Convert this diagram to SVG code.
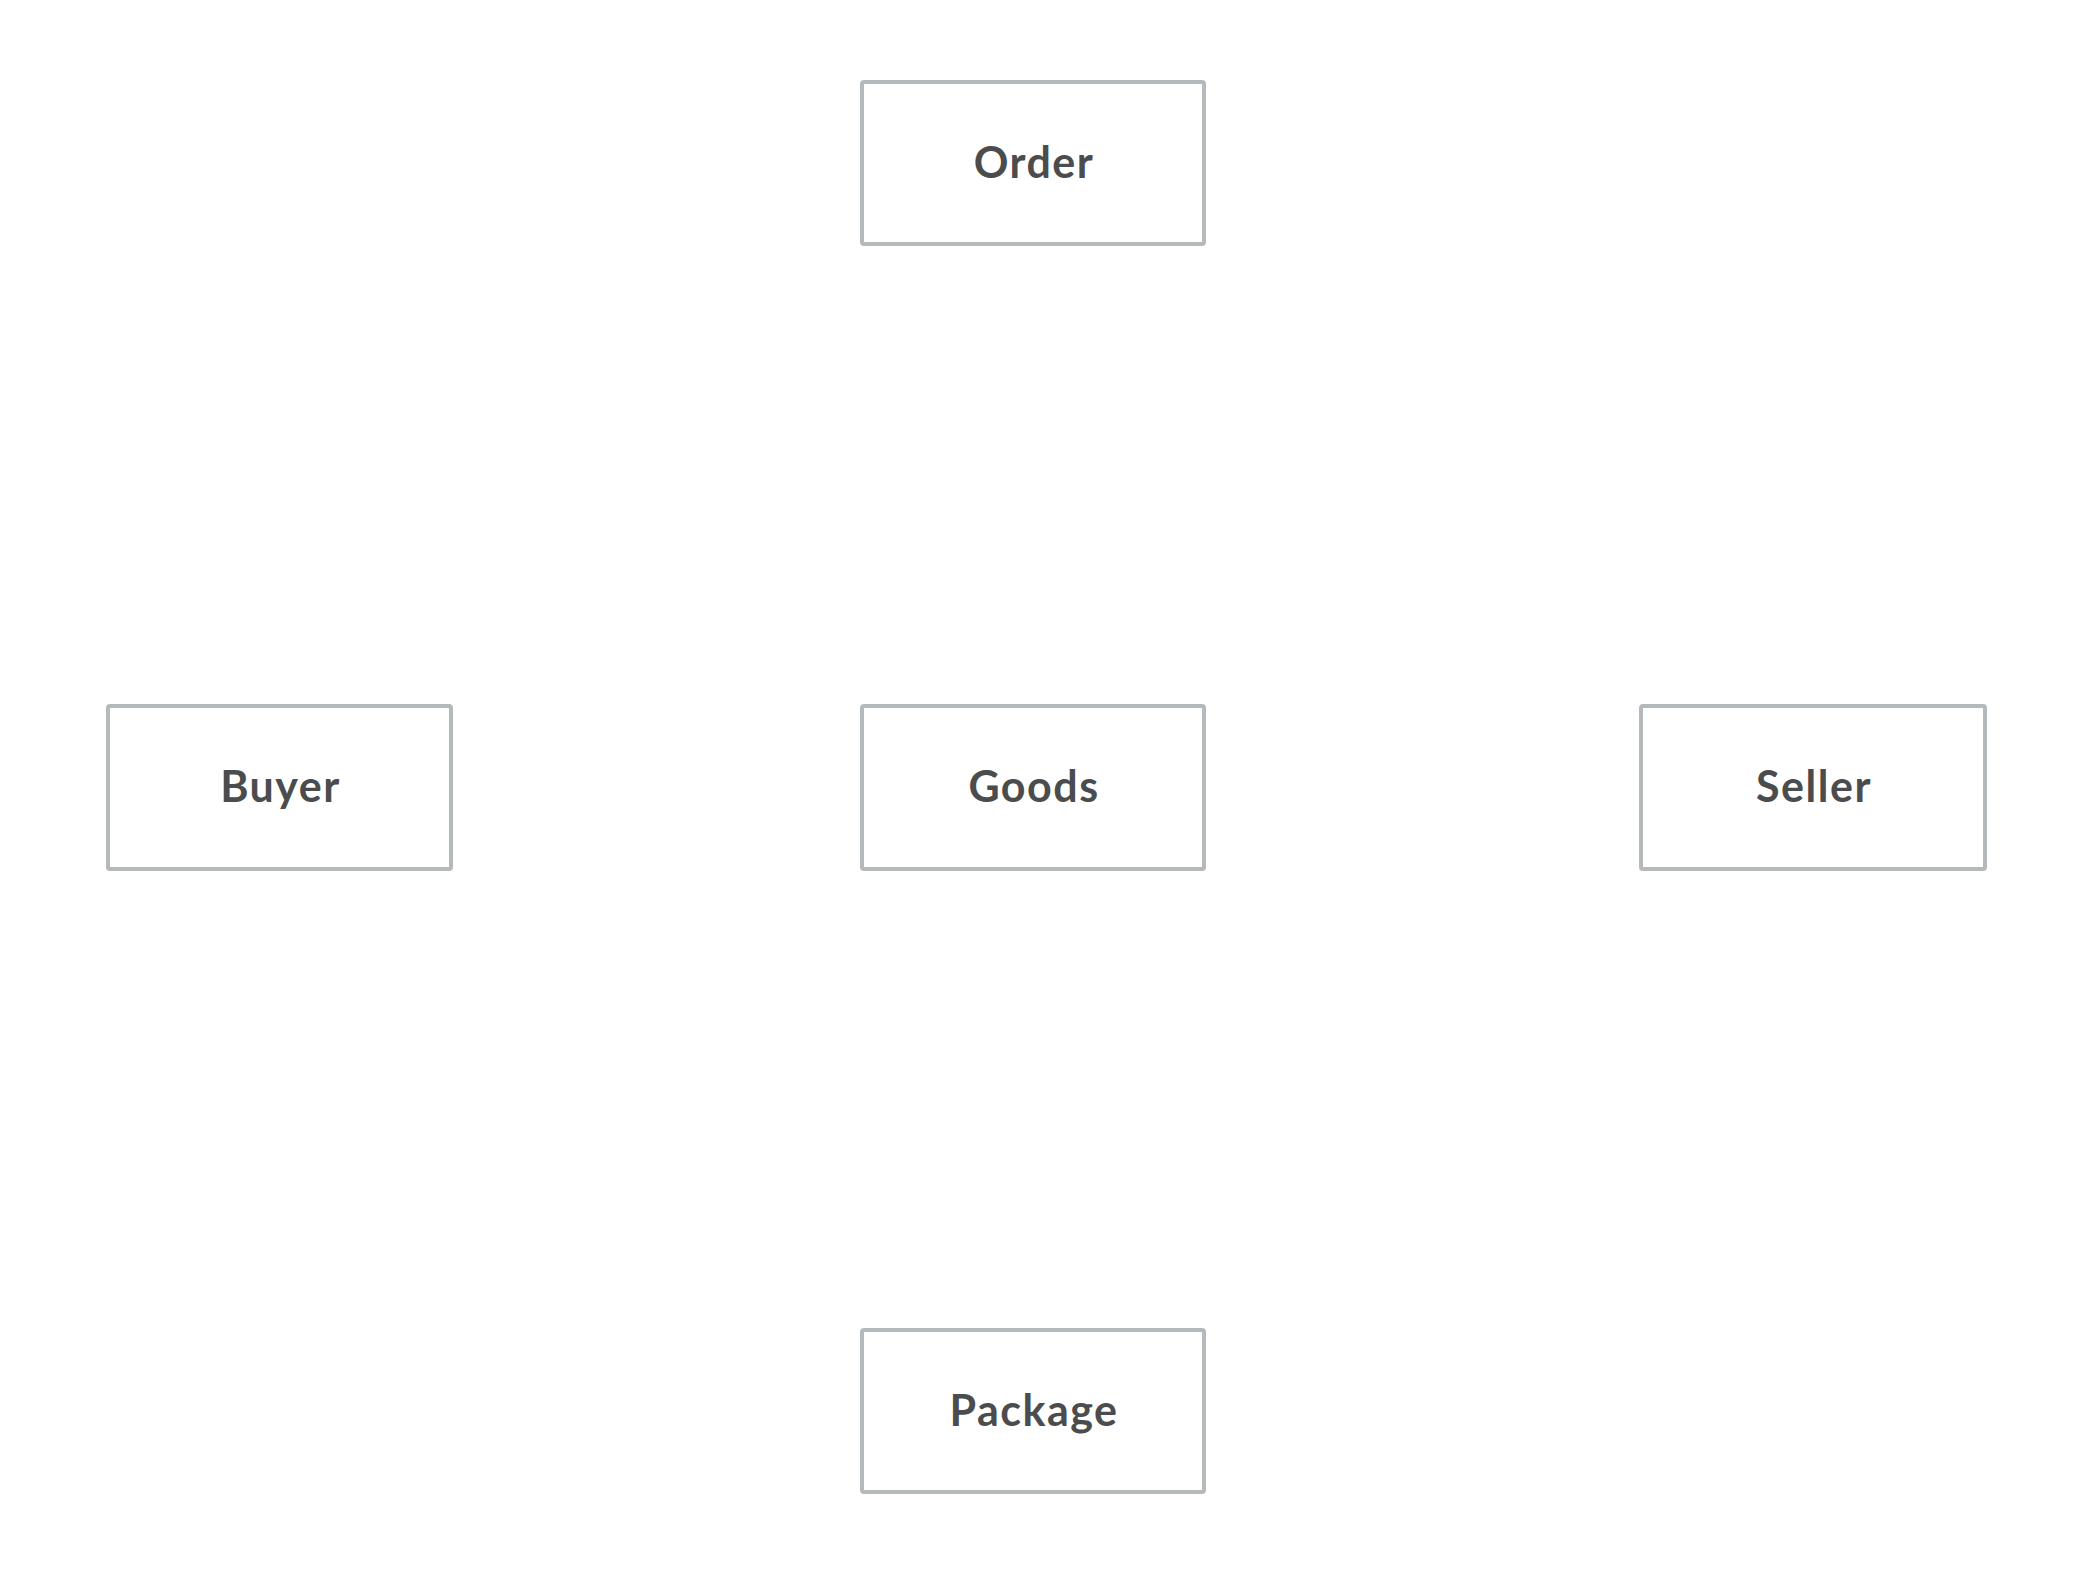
<svg xmlns="http://www.w3.org/2000/svg" width="2096" height="1570" viewBox="0 0 2096 1570">
<style>
.box{fill:#ffffff;stroke:#b4b9bb;stroke-width:4}
.lbl{font-family:Lato,"Open Sans","Liberation Sans",sans-serif;font-weight:700;font-size:43px;letter-spacing:1.5px;fill:#4a4c4d;text-anchor:middle}
</style>
<rect width="2096" height="1570" fill="#ffffff"/>
<g id="connectors"></g>
<g id="order"><rect class="box" x="862" y="82" width="342" height="162" rx="2"/><text class="lbl" x="1034" y="178">Order</text></g>
<g id="buyer"><rect class="box" x="108" y="706" width="343" height="163" rx="2"/><text class="lbl" x="280.5" y="802">Buyer</text></g>
<g id="goods"><rect class="box" x="862" y="706" width="342" height="163" rx="2"/><text class="lbl" x="1034" y="802">Goods</text></g>
<g id="seller"><rect class="box" x="1641" y="706" width="344" height="163" rx="2"/><text class="lbl" x="1814" y="802">Seller</text></g>
<g id="package"><rect class="box" x="862" y="1330" width="342" height="162" rx="2"/><text class="lbl" x="1034" y="1426">Package</text></g>
</svg>
